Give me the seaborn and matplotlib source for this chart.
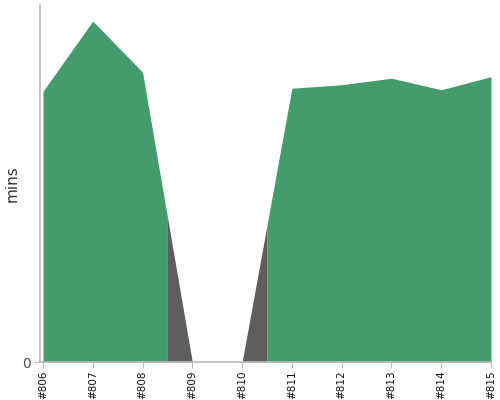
import numpy as np
import matplotlib
matplotlib.use("Agg")
import matplotlib.pyplot as plt
import seaborn as sns

builds = ['#806', '#807', '#808', '#809', '#810', '#811', '#812', '#813', '#814', '#815']
durations = [2.70, 3.40, 2.89, 0.0, 0.0, 2.73, 2.765, 2.83, 2.715, 2.845]
results = ['ok', 'ok', 'ok', 'fail', 'fail', 'ok', 'ok', 'ok', 'ok', 'ok']

colors = {'ok': '#449c6c', 'fail': '#5e5e5e'}

sns.set_style('white')
plt.rcParams['font.family'] = ['DejaVu Sans']

fig = plt.figure(figsize=(5, 4), dpi=100)
ax = fig.add_axes([0.079, 0.095, 0.903, 0.8925])

x = np.arange(len(builds))
y = np.array(durations)

# each build owns half a segment on either side; build half-segments
halves = []
for i in range(len(x) - 1):
    mid_x = (x[i] + x[i + 1]) / 2
    mid_y = (y[i] + y[i + 1]) / 2
    halves.append((x[i], y[i], mid_x, mid_y, results[i]))
    halves.append((mid_x, mid_y, x[i + 1], y[i + 1], results[i + 1]))

# merge consecutive halves of the same result into one polygon (no seams)
runs = []
for x0, y0, x1, y1, res in halves:
    if runs and runs[-1][2] == res:
        runs[-1][0].append(x1)
        runs[-1][1].append(y1)
    else:
        runs.append(([x0, x1], [y0, y1], res))

for xs, ys, res in runs:
    ax.fill_between(xs, ys, 0, color=colors[res], linewidth=0)

ax.set_xlim(-0.07, len(builds) - 1)
ax.set_ylim(0, 3.56)
ax.set_xticks(x)
ax.set_xticklabels(builds, rotation=90, fontsize=7.5, color='#111111')
ax.set_yticks([0])
ax.set_yticklabels(['0'], fontsize=10, color='#555555')
ax.set_ylabel('mins', fontsize=11, color='#333333')
ax.yaxis.set_label_coords(-0.043, 0.5)

for side in ['top', 'right']:
    ax.spines[side].set_visible(False)
for side in ['left', 'bottom']:
    ax.spines[side].set_color('#bbbbbb')
    ax.spines[side].set_linewidth(1.2)
ax.tick_params(axis='x', length=4, color='#bbbbbb', pad=2, direction='out', bottom=True)
ax.tick_params(axis='y', length=4, color='#bbbbbb', pad=2, direction='out', left=True)

fig.savefig('out.png', dpi=100)
